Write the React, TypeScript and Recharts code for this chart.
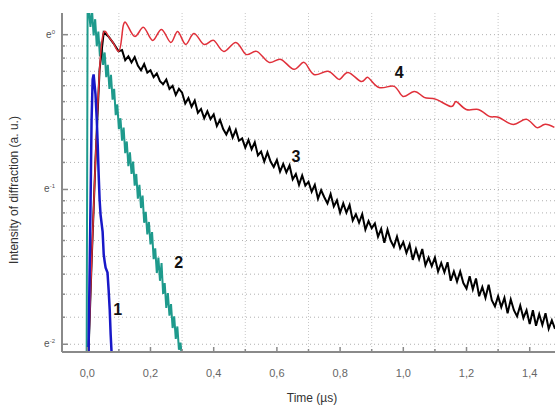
import React from "react";
import { CartesianGrid, Line, LineChart, ReferenceDot, XAxis, YAxis } from "recharts";

// x in µs, y = ln(intensity)
const X_TICKS = [0, 0.1, 0.2, 0.3, 0.4, 0.5, 0.6, 0.7, 0.8, 0.9, 1.0, 1.1, 1.2, 1.3, 1.4];
const X_GRID = [0.1, 0.3, 0.5, 0.7, 0.9, 1.1, 1.3];
const Y_MAJOR = [-2, -1, 0];
const Y_LABELS = ["-2", "-1", "0"];

// Origin-style log axis: minor ticks evenly spaced in linear intensity between decades of e
const Y_MINOR = [1, 2].flatMap((k) => {
  const lo = Math.exp(-k);
  const hi = Math.exp(-k + 1);
  return [1, 2, 3, 4, 5, 6, 7, 8].map((j) => Math.log(lo + (j * (hi - lo)) / 9));
});
const Y_TICKS = [...Y_MAJOR, ...Y_MINOR];

// curve 1 (blue)
const BLUE_X = [0.004, 0.007, 0.0105, 0.0136, 0.017, 0.02, 0.026, 0.03, 0.033, 0.036, 0.039, 0.042, 0.0485, 0.052, 0.055, 0.058, 0.064, 0.0675, 0.071, 0.074, 0.077];
const BLUE_Y = [-2.05, -1.583, -1.065, -0.548, -0.289, -0.257, -0.386, -0.548, -0.71, -0.904, -1.065, -1.162, -1.272, -1.42, -1.466, -1.505, -1.537, -1.647, -1.777, -1.938, -2.06];

// curve 2 (teal): vertical rise, then samples every 5 ns
const TEAL_HEAD_X = [-0.002, 0.001];
const TEAL_HEAD_Y = [-2.1, 0.17];
const TEAL_T0 = 0.005;
const TEAL_DT = 0.005;
const TEAL_Y = [
  0.16, 0.05, 0.16, -0.005, 0.1, -0.075, 0.02, -0.14, -0.045, -0.195,
  -0.115, -0.275, -0.195, -0.35, -0.26, -0.42, -0.35, -0.52, -0.45, -0.61,
  -0.54, -0.685, -0.6, -0.765, -0.69, -0.85, -0.76, -0.9, -0.82, -0.975,
  -0.9, -1.06, -0.97, -1.12, -1.04, -1.215, -1.145, -1.29, -1.21, -1.355,
  -1.275, -1.45, -1.38, -1.54, -1.44, -1.59, -1.475, -1.675, -1.605, -1.765,
  -1.67, -1.815, -1.74, -1.895, -1.82, -1.965, -1.885, -2.035, -1.99, -2.1,
];

// curve 3 (black): shared rise with curve 4, then samples every 10 ns
const BLACK_HEAD_X = [0.004, 0.014, 0.026, 0.039, 0.052, 0.067, 0.083, 0.099];
const BLACK_HEAD_Y = [-2.048, -1.45, -0.807, -0.224, 0.015, -0.011, -0.056, -0.108];
const BLACK_T0 = 0.11;
const BLACK_DT = 0.01;
const BLACK_Y = [
  -0.1, -0.165, -0.14, -0.18, -0.145, -0.2, -0.23, -0.19, -0.245, -0.23,
  -0.275, -0.25, -0.3, -0.32, -0.29, -0.35, -0.33, -0.39, -0.35, -0.375,
  -0.445, -0.41, -0.465, -0.425, -0.505, -0.48, -0.54, -0.495, -0.545, -0.515,
  -0.59, -0.55, -0.61, -0.645, -0.6, -0.665, -0.615, -0.685, -0.67, -0.73,
  -0.68, -0.74, -0.695, -0.78, -0.755, -0.82, -0.76, -0.82, -0.855, -0.81,
  -0.885, -0.835, -0.89, -0.845, -0.935, -0.9, -0.97, -0.91, -0.975, -0.95,
  -1.015, -0.97, -1.06, -1.005, -1.05, -1.09, -1.03, -1.11, -1.07, -1.15,
  -1.09, -1.15, -1.1, -1.2, -1.16, -1.215, -1.16, -1.26, -1.205, -1.25,
  -1.22, -1.305, -1.255, -1.345, -1.26, -1.33, -1.37, -1.305, -1.38, -1.34,
  -1.41, -1.355, -1.455, -1.385, -1.45, -1.385, -1.49, -1.44, -1.495, -1.44,
  -1.53, -1.475, -1.535, -1.47, -1.59, -1.53, -1.595, -1.53, -1.605, -1.64,
  -1.56, -1.645, -1.575, -1.69, -1.63, -1.7, -1.615, -1.715, -1.755, -1.69,
  -1.76, -1.7, -1.8, -1.71, -1.78, -1.82, -1.75, -1.83, -1.78, -1.87,
  -1.78, -1.88, -1.805, -1.875, -1.8, -1.9, -1.845, -1.9,
];

// curve 4 (red), oscillating
const RED_X = [
  0.004, 0.014, 0.026, 0.039, 0.052, 0.067, 0.083, 0.099, 0.109, 0.121,
  0.15, 0.178, 0.207, 0.235, 0.264, 0.286, 0.311, 0.337, 0.369, 0.4,
  0.432, 0.47, 0.502, 0.536, 0.575, 0.613, 0.654, 0.686, 0.717, 0.762,
  0.797, 0.825, 0.866, 0.888, 0.923, 0.971, 0.999, 1.034, 1.066, 1.104,
  1.152, 1.167, 1.199, 1.237, 1.272, 1.303, 1.348, 1.389, 1.421, 1.446, 1.478,
];
const RED_Y = [
  -2.048, -1.45, -0.807, -0.224, 0.015, -0.011, -0.056, -0.108, -0.017, 0.08,
  -0.011, 0.047, -0.037, 0.034, -0.05, 0.021, -0.063, 0.008, -0.063, -0.037,
  -0.108, -0.05, -0.127, -0.108, -0.179, -0.16, -0.224, -0.179, -0.257, -0.237,
  -0.289, -0.244, -0.302, -0.276, -0.341, -0.334, -0.399, -0.367, -0.405, -0.418,
  -0.464, -0.431, -0.483, -0.483, -0.528, -0.535, -0.58, -0.547, -0.599, -0.58, -0.599,
];

const CURVE_TAGS = [
  { text: "1", x: 0.096, y: -1.777 },
  { text: "2", x: 0.289, y: -1.473 },
  { text: "3", x: 0.66, y: -0.787 },
  { text: "4", x: 0.987, y: -0.244 },
];

const pairs = (xs: number[], ys: number[]) => xs.map((x, i) => ({ x, y: ys[i] }));
const sampled = (t0: number, dt: number, ys: number[]) =>
  ys.map((y, i) => ({ x: +(t0 + i * dt).toFixed(4), y }));

const blue = pairs(BLUE_X, BLUE_Y);
const teal = [...pairs(TEAL_HEAD_X, TEAL_HEAD_Y), ...sampled(TEAL_T0, TEAL_DT, TEAL_Y)];
const black = [...pairs(BLACK_HEAD_X, BLACK_HEAD_Y), ...sampled(BLACK_T0, BLACK_DT, BLACK_Y)];
const red = pairs(RED_X, RED_Y);

const FONT = "'Liberation Sans', Arial, sans-serif";
const AXIS = "#8a8a8a";

function XTick({ x, y, payload, index }: any) {
  const major = index % 2 === 0;
  return (
    <g>
      <line x1={x} x2={x} y1={y} y2={y - (major ? 5 : 3)} stroke={AXIS} strokeWidth={1.5} />
      {major && (
        <text x={x} y={y + 25} textAnchor="middle" fontSize={11} fill="#666" fontFamily={FONT}>
          {payload.value.toFixed(1).replace(".", ",")}
        </text>
      )}
    </g>
  );
}

function YTick({ x, y, payload }: any) {
  const i = Y_MAJOR.indexOf(payload.value);
  const major = i >= 0;
  return (
    <g>
      <line x1={x} x2={x + (major ? 6 : 3)} y1={y} y2={y} stroke={AXIS} strokeWidth={1.5} />
      {major && (
        <text x={x - 7} y={y + 3} textAnchor="end" fontSize={10} fill="#555" fontFamily={FONT}>
          e
          <tspan dy={-4} fontSize={6}>
            {Y_LABELS[i]}
          </tspan>
        </text>
      )}
    </g>
  );
}

export default function App() {
  return (
    <div style={{ position: "absolute", left: 0, top: 0, background: "#fff" }}>
      <LineChart width={555} height={406} margin={{ top: 13, right: 0, bottom: 0, left: 0 }}>
        <CartesianGrid
          horizontal={false}
          verticalValues={X_GRID}
          stroke="#c8c8c8"
          strokeDasharray="1 2"
        />
        <CartesianGrid
          vertical={false}
          horizontalValues={Y_TICKS}
          stroke="#b0b0b0"
          strokeDasharray="1 3"
        />
        <XAxis
          type="number"
          dataKey="x"
          domain={[-0.08, 1.48]}
          ticks={X_TICKS}
          interval={0}
          allowDataOverflow
          height={54}
          tickSize={0}
          tickMargin={0}
          tickLine={false}
          axisLine={{ stroke: AXIS, strokeWidth: 2 }}
          tick={<XTick />}
        />
        <YAxis
          type="number"
          domain={[-2.05, 0.14]}
          ticks={Y_TICKS}
          interval={0}
          allowDataOverflow
          width={62}
          tickSize={0}
          tickMargin={0}
          tickLine={false}
          axisLine={{ stroke: AXIS, strokeWidth: 2 }}
          tick={<YTick />}
        />
        <Line data={teal} dataKey="y" type="linear" stroke="#1e9a8c" strokeWidth={2} dot={false} isAnimationActive={false} />
        <Line data={black} dataKey="y" type="linear" stroke="#000" strokeWidth={2} dot={false} isAnimationActive={false} />
        <Line data={red} dataKey="y" type="natural" stroke="#e0303a" strokeWidth={1.5} dot={false} isAnimationActive={false} />
        <Line data={blue} dataKey="y" type="linear" stroke="#1818c8" strokeWidth={2.5} dot={false} isAnimationActive={false} />
        {CURVE_TAGS.map((t) => (
          <ReferenceDot
            key={t.text}
            x={t.x}
            y={t.y}
            r={0}
            stroke="none"
            label={{ value: t.text, position: "center", fontSize: 16, fontWeight: "bold", fill: "#111", fontFamily: FONT }}
          />
        ))}
        <text
          x={15}
          y={190}
          transform="rotate(-90 15 190)"
          textAnchor="middle"
          dominantBaseline="middle"
          fontSize={12}
          fill="#333"
          fontFamily={FONT}
        >
          Intensity of diffraction (a. u.)
        </text>
        <text x={312} y={402} textAnchor="middle" fontSize={12} fill="#333" fontFamily={FONT}>
          Time (µs)
        </text>
      </LineChart>
    </div>
  );
}
